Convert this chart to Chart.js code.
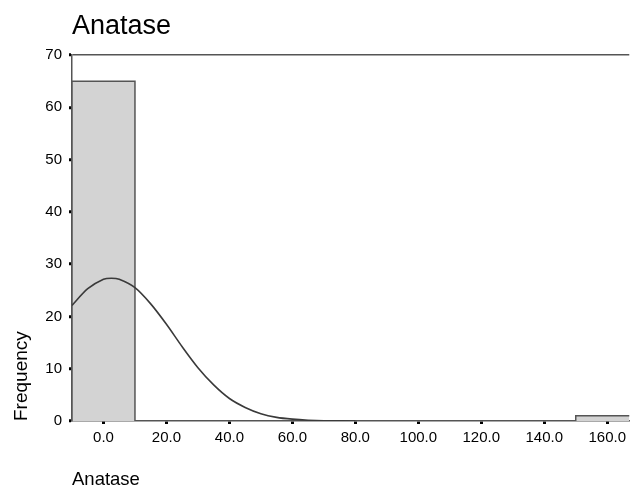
<!DOCTYPE html>
<html>
<head>
<meta charset="utf-8">
<script src="https://cdn.jsdelivr.net/npm/chart.js@4/dist/chart.umd.min.js"></script>
<style>
html,body{margin:0;padding:0;background:#fff;}
#wrap{width:631px;height:491px;position:relative;}
</style>
</head>
<body>
<div id="wrap"><canvas id="c" width="631" height="491"></canvas></div>
<script>
const chartTitle = 'Anatase';
const xTitle = 'Anatase';
const yTitle = 'Frequency';
// histogram bins
const binStart = [-10, 150];
const binEnd = [10, 170];
const counts = [65, 1];
// fitted normal curve
const curveX = [-10, -5, 0, 2.5, 5, 10, 15, 20, 25, 30, 35, 40, 45, 50, 55, 60, 65, 70, 80];
const curveY = [22.1, 25.3, 27.1, 27.3, 27.1, 25.5, 22.4, 18.5, 14.2, 10.2, 6.9, 4.3, 2.6, 1.4, 0.7, 0.35, 0.15, 0.05, 0];
// tick values
const xTicks = [0, 20, 40, 60, 80, 100, 120, 140, 160];
const yTicks = [0, 10, 20, 30, 40, 50, 60, 70];

const histData = [];
for (let i = 0; i < counts.length; i++) {
  histData.push({x: binStart[i], y: 0}, {x: binStart[i], y: counts[i]},
                {x: binEnd[i], y: counts[i]}, {x: binEnd[i], y: 0}, {x: NaN, y: NaN});
}
const curveData = curveX.map((x, i) => ({x: x, y: curveY[i]}));

const FONT = '"Liberation Sans", Arial, sans-serif';

const titlePlugin = {
  id: 'mainTitle',
  afterDraw(chart) {
    const ctx = chart.ctx;
    ctx.save();
    ctx.font = '27px ' + FONT;
    ctx.fillStyle = '#000';
    ctx.textBaseline = 'alphabetic';
    ctx.textAlign = 'left';
    ctx.fillText(chartTitle, chart.chartArea.left, 34);
    ctx.restore();
  }
};

new Chart(document.getElementById('c'), {
  type: 'line',
  data: {
    datasets: [
      {
        data: curveData,
        borderColor: '#3a3a3a',
        borderWidth: 1.6,
        pointRadius: 0,
        fill: false,
        tension: 0.3,
        order: 0
      },
      {
        data: histData,
        borderColor: '#555',
        borderWidth: 1.5,
        backgroundColor: '#d3d3d3',
        pointRadius: 0,
        fill: 'origin',
        spanGaps: false,
        tension: 0,
        order: 1
      }
    ]
  },
  options: {
    responsive: false,
    animation: false,
    devicePixelRatio: 1,
    layout: {padding: {top: 55, left: 0, right: 0, bottom: 0}},
    plugins: {legend: {display: false}, tooltip: {enabled: false}, title: {display: false}},
    scales: {
      x: {
        type: 'linear',
        min: -10,
        max: 167,
        afterBuildTicks(axis) { axis.ticks = xTicks.map(v => ({value: v})); },
        afterFit(axis) { axis.height = 70; },
        ticks: {
          callback: v => Number(v).toFixed(1),
          color: '#000',
          font: {family: FONT, size: 15},
          padding: 5,
          maxRotation: 0,
          autoSkip: false
        },
        grid: {drawOnChartArea: false, tickColor: '#000', tickLength: 3, tickWidth: 3},
        border: {display: true, color: '#555', width: 1.5},
        title: {display: true, text: xTitle, align: 'start', color: '#000',
                font: {family: FONT, size: 18.5}, padding: {top: 0, bottom: 0}}
      },
      y: {
        type: 'linear',
        min: 0,
        max: 70,
        afterBuildTicks(axis) { axis.ticks = yTicks.map(v => ({value: v})); },
        afterFit(axis) { axis.width = 72; },
        ticks: {
          color: '#000',
          font: {family: FONT, size: 15},
          padding: 7
        },
        grid: {
          drawOnChartArea: true,
          color: ctx => (ctx.tick && ctx.tick.value === 70) ? '#555' : 'rgba(0,0,0,0)',
          lineWidth: 1.5,
          tickColor: '#000', tickLength: 3, tickWidth: 3
        },
        border: {display: true, color: '#555', width: 1.5},
        title: {display: true, text: yTitle, align: 'start', color: '#000',
                font: {family: FONT, size: 19}, padding: {top: 10, bottom: 0}}
      }
    }
  },
  plugins: [titlePlugin]
});
</script>
</body>
</html>
